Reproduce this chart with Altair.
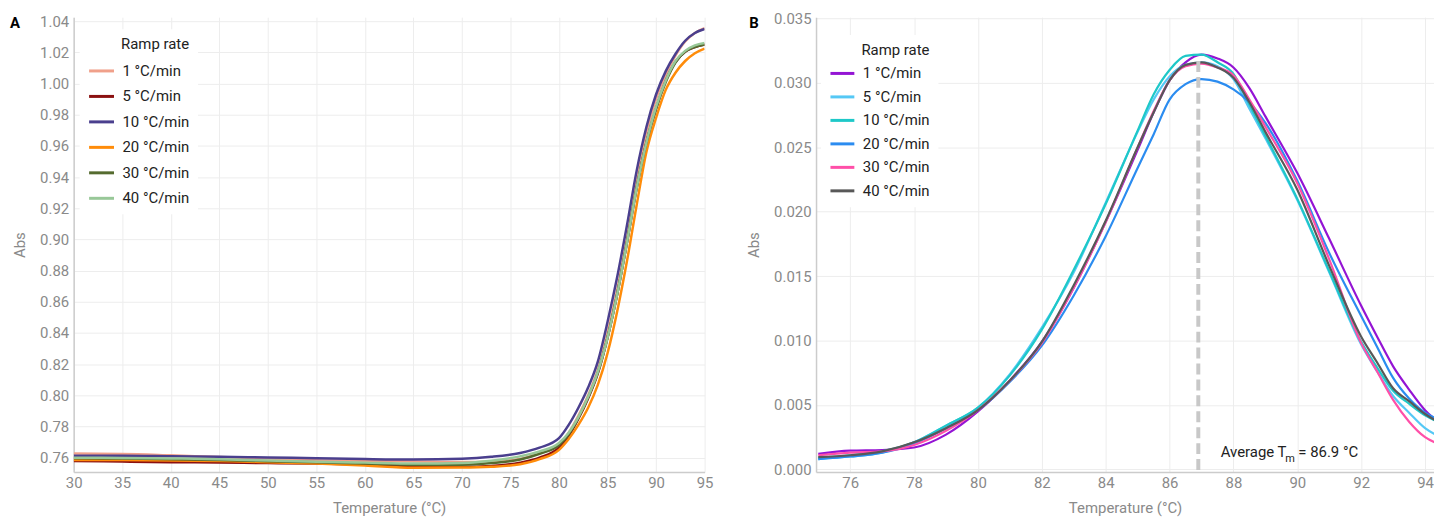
import altair as alt
import pandas as pd

FONT = "Roboto"

# ---------------- Panel A data ----------------
rates = ["1 °C/min", "5 °C/min", "10 °C/min", "20 °C/min", "30 °C/min", "40 °C/min"]
colors_a = ["#F0A08A", "#8B1010", "#4A3F8E", "#FF8C0A", "#556B2F", "#98C898"]

temp_a = [30, 35, 40, 45, 50, 55, 60, 65, 70, 73, 76, 78, 80, 81, 82, 83, 84, 85,
          86, 87, 88, 89, 90, 91, 92, 93, 94, 95]
a_1 = [0.7626, 0.7624, 0.7615, 0.7604, 0.7595, 0.7584, 0.7580, 0.7576, 0.7572, 0.7576,
       0.7592, 0.7630, 0.7680, 0.7760, 0.7870, 0.8000, 0.8165, 0.8400, 0.8680, 0.9010,
       0.9370, 0.9670, 0.9900, 1.0060, 1.0180, 1.0270, 1.0325, 1.0355]
a_5 = [0.7578, 0.7575, 0.7571, 0.7569, 0.7565, 0.7563, 0.7555, 0.7546, 0.7541, 0.7547,
       0.7568, 0.7600, 0.7664, 0.7740, 0.7850, 0.7980, 0.8140, 0.8370, 0.8650, 0.8980,
       0.9330, 0.9620, 0.9840, 1.0020, 1.0140, 1.0205, 1.0235, 1.0250]
a_10 = [0.7612, 0.7612, 0.7609, 0.7606, 0.7601, 0.7596, 0.7591, 0.7588, 0.7593, 0.7605,
        0.7630, 0.7664, 0.7725, 0.7810, 0.7920, 0.8050, 0.8216, 0.8470, 0.8760, 0.9090,
        0.9440, 0.9720, 0.9930, 1.0080, 1.0190, 1.0275, 1.0325, 1.0350]
a_20 = [0.7585, 0.7584, 0.7581, 0.7579, 0.7570, 0.7562, 0.7550, 0.7535, 0.7536, 0.7541,
        0.7558, 0.7590, 0.7650, 0.7720, 0.7810, 0.7920, 0.8067, 0.8270, 0.8540, 0.8860,
        0.9220, 0.9560, 0.9780, 0.9960, 1.0070, 1.0145, 1.0195, 1.0225]
a_30 = [0.7596, 0.7594, 0.7590, 0.7585, 0.7577, 0.7570, 0.7562, 0.7554, 0.7555, 0.7565,
        0.7588, 0.7625, 0.7680, 0.7750, 0.7855, 0.7985, 0.8145, 0.8370, 0.8650, 0.8980,
        0.9330, 0.9620, 0.9840, 1.0010, 1.0135, 1.0205, 1.0235, 1.0250]
a_40 = [0.7600, 0.7598, 0.7595, 0.7590, 0.7581, 0.7574, 0.7568, 0.7562, 0.7566, 0.7580,
        0.7608, 0.7640, 0.7694, 0.7760, 0.7860, 0.7990, 0.8150, 0.8370, 0.8650, 0.8980,
        0.9330, 0.9620, 0.9850, 1.0020, 1.0145, 1.0210, 1.0245, 1.0260]

x_ticks_a = [30, 35, 40, 45, 50, 55, 60, 65, 70, 75, 80, 85, 90, 95]
y_ticks_a = [0.76, 0.78, 0.80, 0.82, 0.84, 0.86, 0.88, 0.90, 0.92, 0.94, 0.96, 0.98,
             1.00, 1.02, 1.04]

# ---------------- Panel B data ----------------
colors_b = ["#9414D4", "#55C8F5", "#1EC8C8", "#2B8CF0", "#FF4FA8", "#585858"]

temp_b = [75, 76, 77, 78, 79, 80, 81, 82, 83, 84, 85, 85.5, 86, 86.5, 87, 87.5, 88,
          88.5, 89, 90, 91, 92, 92.5, 93, 93.5, 94, 94.4]
b_1 = [0.00120, 0.00145, 0.00150, 0.00170, 0.00270, 0.00450, 0.00690, 0.00990, 0.01410,
       0.01920, 0.02480, 0.02770, 0.03020, 0.03160, 0.03220, 0.03190, 0.03120, 0.02960,
       0.02740, 0.02300, 0.01790, 0.01270, 0.01030, 0.00800, 0.00620, 0.00460, 0.00370]
b_5 = [0.00080, 0.00100, 0.00130, 0.00210, 0.00340, 0.00480, 0.00740, 0.01100, 0.01530,
       0.02070, 0.02620, 0.02870, 0.03050, 0.03140, 0.03160, 0.03130, 0.03030, 0.02800,
       0.02570, 0.02090, 0.01530, 0.00970, 0.00760, 0.00570, 0.00440, 0.00320, 0.00260]
b_10 = [0.00090, 0.00110, 0.00140, 0.00210, 0.00340, 0.00480, 0.00730, 0.01085, 0.01550,
        0.02060, 0.02630, 0.02910, 0.03100, 0.03210, 0.03220, 0.03160, 0.03070, 0.02830,
        0.02590, 0.02100, 0.01540, 0.00990, 0.00790, 0.00610, 0.00510, 0.00420, 0.00370]
b_20 = [0.00080, 0.00100, 0.00130, 0.00200, 0.00320, 0.00460, 0.00680, 0.00960, 0.01350,
        0.01810, 0.02340, 0.02600, 0.02870, 0.02990, 0.03030, 0.03010, 0.02950, 0.02850,
        0.02690, 0.02240, 0.01680, 0.01190, 0.00950, 0.00710, 0.00550, 0.00440, 0.00390]
b_30 = [0.00110, 0.00130, 0.00140, 0.00190, 0.00300, 0.00460, 0.00690, 0.00980, 0.01410,
        0.01920, 0.02500, 0.02780, 0.03020, 0.03130, 0.03150, 0.03120, 0.03060, 0.02870,
        0.02660, 0.02220, 0.01630, 0.00980, 0.00760, 0.00540, 0.00370, 0.00250, 0.00200]
b_40 = [0.00095, 0.00110, 0.00140, 0.00210, 0.00320, 0.00460, 0.00690, 0.00990, 0.01430,
        0.01930, 0.02500, 0.02770, 0.03020, 0.03140, 0.03160, 0.03120, 0.03040, 0.02850,
        0.02620, 0.02170, 0.01580, 0.01030, 0.00830, 0.00630, 0.00530, 0.00430, 0.00370]

x_ticks_b = [76, 78, 80, 82, 84, 86, 88, 90, 92, 94]
y_ticks_b = [0.0, 0.005, 0.010, 0.015, 0.020, 0.025, 0.030, 0.035]

tm_value = 86.9
tm_top = 0.0317
tm_text = ["Average T", "m", "= 86.9 °C"]
tm_text_x = 87.6
tm_text_y = 0.00094

# ---------------- build tables ----------------
rows_a = []
for r, vals in zip(rates, [a_1, a_5, a_10, a_20, a_30, a_40]):
    for t, v in zip(temp_a, vals):
        rows_a.append({"temp": t, "abs": v, "rate": r})
df_a = pd.DataFrame(rows_a)

rows_b = []
for r, vals in zip(rates, [b_1, b_5, b_10, b_20, b_30, b_40]):
    for t, v in zip(temp_b, vals):
        rows_b.append({"temp": t, "abs": v, "rate": r})
df_b = pd.DataFrame(rows_b)


def legend(x, y, size, row_pad, title_pad):
    return alt.Legend(
        title="Ramp rate", orient="none", legendX=x, legendY=y,
        symbolType="stroke", symbolSize=size, symbolStrokeWidth=3,
        labelFont=FONT, labelFontSize=15, labelColor="#222222",
        titleFont=FONT, titleFontSize=15, titleFontWeight="normal",
        titleColor="#222222", titleAnchor="end", titlePadding=title_pad,
        fillColor="white", padding=8, rowPadding=row_pad, labelOffset=7,
    )


# ---------------- Panel A ----------------
lines_a = alt.Chart(df_a).mark_line(strokeWidth=2.5, interpolate="monotone", clip=True).encode(
    x=alt.X("temp:Q", scale=alt.Scale(domain=[30, 95], nice=False, zero=False),
            axis=alt.Axis(values=x_ticks_a, title="Temperature (°C)")),
    y=alt.Y("abs:Q", scale=alt.Scale(domain=[0.7508, 1.0426], nice=False, zero=False),
            axis=alt.Axis(values=y_ticks_a, format=".2f", title="Abs")),
    color=alt.Color("rate:N", sort=rates,
                    scale=alt.Scale(domain=rates, range=colors_a),
                    legend=legend(6, 12, 625, 3.6, 5)),
)

label_a = alt.Chart(pd.DataFrame({"t": ["A"]})).mark_text(
    font=FONT, fontSize=15, fontWeight="bold", color="#000000", align="left", baseline="middle"
).encode(x=alt.value(-64), y=alt.value(6), text="t:N")

chart_a = alt.layer(lines_a, label_a).properties(width=634, height=457)

# ---------------- Panel B ----------------
lines_b = alt.Chart(df_b).mark_line(strokeWidth=2.2, interpolate="monotone", clip=True).encode(
    x=alt.X("temp:Q", scale=alt.Scale(domain=[74.93, 94.28], nice=False, zero=False),
            axis=alt.Axis(values=x_ticks_b, title="Temperature (°C)")),
    y=alt.Y("abs:Q", scale=alt.Scale(domain=[-0.0002, 0.0351], nice=False, zero=False),
            axis=alt.Axis(values=y_ticks_b, format=".3f", title="Abs")),
    color=alt.Color("rate:N", sort=rates,
                    scale=alt.Scale(domain=rates, range=colors_b),
                    legend=legend(5, 18, 576, 1.6, 2)),
)

tm_df = pd.DataFrame({"tm": [tm_value], "top": [tm_top], "bottom": [-0.0002]})
rule_b = alt.Chart(tm_df).mark_rule(color="#c8c8c8", strokeWidth=4, strokeDash=[11, 5]).encode(
    x="tm:Q", y="top:Q", y2="bottom:Q"
)

txt_df = pd.DataFrame({"x": [tm_text_x], "y": [tm_text_y],
                       "t1": [tm_text[0]], "t2": [tm_text[1]], "t3": [tm_text[2]]})
text_main = alt.Chart(txt_df).mark_text(
    font=FONT, fontSize=15, color="#222222", align="left", baseline="alphabetic"
).encode(x="x:Q", y="y:Q", text="t1:N")
text_sub = alt.Chart(txt_df).mark_text(
    font=FONT, fontSize=11, color="#222222", align="left", baseline="alphabetic", dx=65, dy=4.5
).encode(x="x:Q", y="y:Q", text="t2:N")
text_rest = alt.Chart(txt_df).mark_text(
    font=FONT, fontSize=15, color="#222222", align="left", baseline="alphabetic", dx=78
).encode(x="x:Q", y="y:Q", text="t3:N")

label_b = alt.Chart(pd.DataFrame({"t": ["B"]})).mark_text(
    font=FONT, fontSize=15, fontWeight="bold", color="#000000", align="left", baseline="middle"
).encode(x=alt.value(-67), y=alt.value(6), text="t:N")

chart_b = alt.layer(lines_b, rule_b, text_main, text_sub, text_rest, label_b).properties(
    width=621, height=457
)

chart = alt.hconcat(chart_a, chart_b, spacing=112, bounds="flush").resolve_scale(
    color="independent"
).properties(
    padding={"left": 2, "top": 2, "right": 0, "bottom": 0}
).configure_axis(
    labelFont=FONT, labelFontSize=15, labelColor="#8a8a8a", labelFlush=False,
    titleFont=FONT, titleFontSize=15, titleColor="#8a8a8a", titleFontWeight="normal",
    gridColor="#ededed", domainColor="#cccccc", domainWidth=1.5, ticks=False, labelPadding=5,
).configure_axisX(
    labelPadding=4, titlePadding=10
).configure_axisY(
    titlePadding=12
).configure_view(stroke=None)

chart.save("out.html", embed_options={"renderer": "svg", "actions": False})
